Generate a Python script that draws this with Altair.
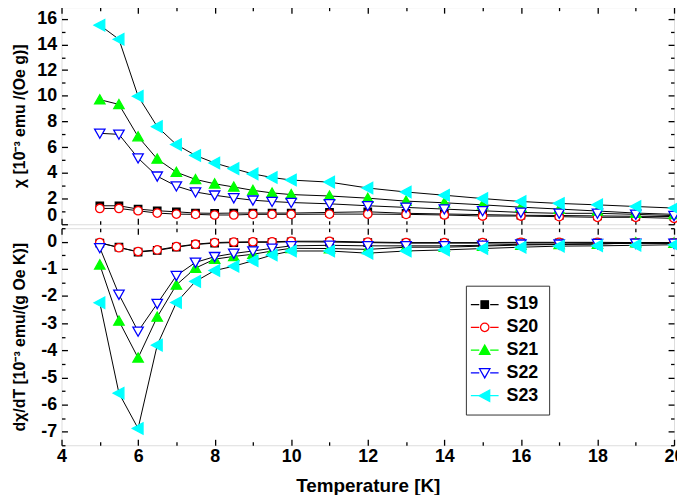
import altair as alt
import pandas as pd

temps = [5, 5.5, 6, 6.5, 7, 7.5, 8, 8.5, 9, 9.5, 10, 11, 12, 13, 14, 15, 16, 17, 18, 19, 20]
series = ["S19", "S20", "S21", "S22", "S23"]

chi_S19 = [1.44, 1.44, 1.18, 1.05, 0.97, 0.87, 0.85, 0.87, 0.87, 0.87, 0.87, 0.92, 0.97, 0.85, 0.80, 0.75, 0.70, 0.68, 0.65, 0.62, 0.60]
chi_S20 = [1.23, 1.23, 1.05, 0.87, 0.79, 0.77, 0.72, 0.72, 0.77, 0.77, 0.77, 0.79, 0.79, 0.77, 0.72, 0.64, 0.64, 0.59, 0.54, 0.54, 0.46]
chi_S21 = [9.7, 9.33, 6.82, 5.08, 4.05, 3.49, 3.15, 2.9, 2.64, 2.44, 2.31, 2.2, 2.03, 1.8, 1.67, 1.51, 1.33, 1.18, 1.03, 0.87, 0.77]
chi_S22 = [7.08, 7.0, 5.15, 3.74, 2.97, 2.51, 2.26, 2.05, 1.87, 1.77, 1.69, 1.59, 1.44, 1.31, 1.18, 1.05, 0.92, 0.85, 0.85, 0.77, 0.67]
chi_S23 = [15.5, 14.4, 9.97, 7.6, 6.2, 5.36, 4.77, 4.33, 3.92, 3.64, 3.44, 3.28, 2.82, 2.51, 2.26, 2.0, 1.77, 1.62, 1.51, 1.38, 1.26]

dchi_S19 = [-0.05, -0.2, -0.38, -0.32, -0.2, -0.1, -0.05, -0.03, -0.02, -0.02, 0.0, -0.01, -0.03, -0.05, -0.05, -0.05, -0.04, -0.04, -0.04, -0.04, -0.04]
dchi_S20 = [-0.03, -0.22, -0.36, -0.3, -0.18, -0.09, -0.03, -0.01, 0.0, 0.0, 0.02, 0.02, -0.01, -0.03, -0.03, -0.03, -0.02, -0.02, -0.02, -0.03, -0.03]
dchi_S21 = [-0.85, -2.92, -4.28, -2.77, -1.59, -0.97, -0.64, -0.54, -0.46, -0.34, -0.24, -0.25, -0.28, -0.2, -0.2, -0.16, -0.12, -0.1, -0.09, -0.03, -0.05]
dchi_S22 = [-0.22, -1.94, -3.3, -2.28, -1.25, -0.76, -0.55, -0.43, -0.34, -0.24, -0.15, -0.13, -0.15, -0.15, -0.15, -0.13, -0.09, -0.09, -0.07, -0.06, -0.06]
dchi_S23 = [-2.25, -5.58, -6.88, -3.81, -2.24, -1.46, -1.06, -0.9, -0.7, -0.49, -0.34, -0.34, -0.42, -0.34, -0.3, -0.25, -0.2, -0.16, -0.15, -0.13, -0.11]

x_major = [4, 6, 8, 10, 12, 14, 16, 18, 20]
x_minor = [5, 7, 9, 11, 13, 15, 17, 19]
chi_major = [0, 2, 4, 6, 8, 10, 12, 14, 16]
chi_minor = [1, 3, 5, 7, 9, 11, 13, 15]
dchi_major = [0, -1, -2, -3, -4, -5, -6, -7]
dchi_minor = [0.5, -0.5, -1.5, -2.5, -3.5, -4.5, -5.5, -6.5, -7.5]

chi = dict(zip(series, [chi_S19, chi_S20, chi_S21, chi_S22, chi_S23]))
dchi = dict(zip(series, [dchi_S19, dchi_S20, dchi_S21, dchi_S22, dchi_S23]))

rows = []
for s in series:
    for t, c, d in zip(temps, chi[s], dchi[s]):
        rows.append({"T": t, "series": s, "chi": c, "dchi": d})
df = pd.DataFrame(rows)

fills = ["#000000", "#ffffff", "#00ff00", "#ffffff", "#00ffff"]
strokes = ["#000000", "#ff0000", "#00ff00", "#0000ff", "#00ffff"]
shapes = [
    "M-0.75,-0.75H0.75V0.75H-0.75Z",
    "M-0.85,0A0.85,0.85 0 1,0 0.85,0A0.85,0.85 0 1,0 -0.85,0Z",
    "M0,-1L1.05,0.85L-1.05,0.85Z",
    "M0,1L1.05,-0.85L-1.05,-0.85Z",
    "M-1.15,0L1.0,-1.15L1.0,1.15Z",
]
line_part = "M-2.8,0H-1.1M1.1,0H2.8"
legend_shapes = [line_part + s for s in shapes]

FONT = "Liberation Sans"
W = 618
MAJ = 6
MIN = 3.5
HYPHEN = "datum.value < 0 ? '-' + abs(datum.value) : '' + datum.value"


def axis(orient, values, size, labels=False, title=None, flush=False, **kw):
    args = dict(
        orient=orient, values=values, tickSize=size, offset=-size, domain=False,
        grid=False, labels=labels, tickColor="black", tickWidth=1.3,
        labelFont=FONT, labelFontSize=18, labelFontWeight="bold", labelColor="black",
        labelPadding=5, labelFlush=flush, labelExpr=HYPHEN, labelOverlap=False,
    )
    if title is not None:
        args.update(title=title, titleFont=FONT, titleFontSize=16, titleFontWeight="bold",
                    titleColor="black")
    else:
        args.update(title=None)
    args.update(kw)
    return alt.Axis(**args)


def panel(field, domain, ymaj, ymin, height, ytitle, bottom, legend):
    xs = alt.Scale(domain=[4, 20], nice=False, zero=False)
    ys = alt.Scale(domain=domain, nice=False, zero=False)
    base = alt.Chart(df)
    xt = "Temperature [K]" if bottom else None
    line = base.mark_line(color="black", strokeWidth=1).encode(
        x=alt.X("T:Q", scale=xs, axis=axis("bottom", x_major, MAJ, labels=bottom, title=xt,
                                             titlePadding=12, titleFontSize=19,
                                             labelPadding=2)),
        y=alt.Y(field + ":Q", scale=ys,
                axis=axis("left", ymaj, MAJ, labels=True, title=ytitle, flush=True,
                          titleX=-40)),
        detail="series:N",
    )
    pts = base.mark_point(size=100, strokeWidth=1.3, opacity=1, fillOpacity=1).encode(
        x=alt.X("T:Q", scale=xs, axis=axis("top", x_major, MAJ)),
        y=alt.Y(field + ":Q", scale=ys, axis=axis("right", ymaj, MAJ)),
        shape=alt.Shape("series:N", scale=alt.Scale(domain=series, range=shapes), legend=None),
        fill=alt.Fill("series:N", scale=alt.Scale(domain=series, range=fills), legend=None),
        stroke=alt.Stroke("series:N", scale=alt.Scale(domain=series, range=strokes), legend=None),
    )
    minor1 = base.mark_point(opacity=0).encode(
        x=alt.X("T:Q", scale=xs, axis=axis("bottom", x_minor, MIN)),
        y=alt.Y(field + ":Q", scale=ys, axis=axis("left", ymin, MIN)),
    )
    minor2 = base.mark_point(opacity=0).encode(
        x=alt.X("T:Q", scale=xs, axis=axis("top", x_minor, MIN)),
        y=alt.Y(field + ":Q", scale=ys, axis=axis("right", ymin, MIN)),
    )
    layers = [minor1, minor2, line, pts]
    if legend:
        leg = alt.Legend(
            orient="none", legendX=408, legendY=58, title=None,
            labelFont=FONT, labelFontSize=18, labelFontWeight="bold", labelColor="black",
            strokeColor="#333333", fillColor="white", padding=10,
            symbolSize=100, symbolStrokeWidth=1.3, rowPadding=5, labelOffset=13,
            symbolOpacity=1,
        )
        legl = base.transform_filter("false").mark_point(size=100, strokeWidth=1.3).encode(
            shape=alt.Shape("series:N", scale=alt.Scale(domain=series, range=legend_shapes), legend=leg),
            fill=alt.Fill("series:N", scale=alt.Scale(domain=series, range=fills), legend=leg),
            stroke=alt.Stroke("series:N", scale=alt.Scale(domain=series, range=strokes), legend=leg),
        )
        layers.append(legl)
    return alt.layer(*layers).resolve_axis(
        x="independent", y="independent"
    ).resolve_scale(shape="independent", fill="independent", stroke="independent").resolve_legend(
        shape="independent", fill="independent", stroke="independent"
    ).properties(width=W, height=height)


top = panel("chi", [0, 16.9], chi_major, chi_minor, 219,
            "\u03c7 [10\u207b\u00b3 emu /(Oe g)]", False, False)
bot = panel("dchi", [-7.5, 0.5], dchi_major, dchi_minor, 219,
            "d\u03c7/dT [10\u207b\u00b3 emu/(g Oe K)]", True, True)

chart = alt.vconcat(top, bot, spacing=0).resolve_scale(
    shape="independent", fill="independent", stroke="independent"
).resolve_legend(
    shape="independent", fill="independent", stroke="independent"
).properties(
    padding={"left": 3, "top": -5, "right": -8, "bottom": -4}
).configure_view(stroke="#222222", strokeWidth=1.8).configure(background="white")

chart.save("out.html", embed_options={"renderer": "svg", "actions": False})
